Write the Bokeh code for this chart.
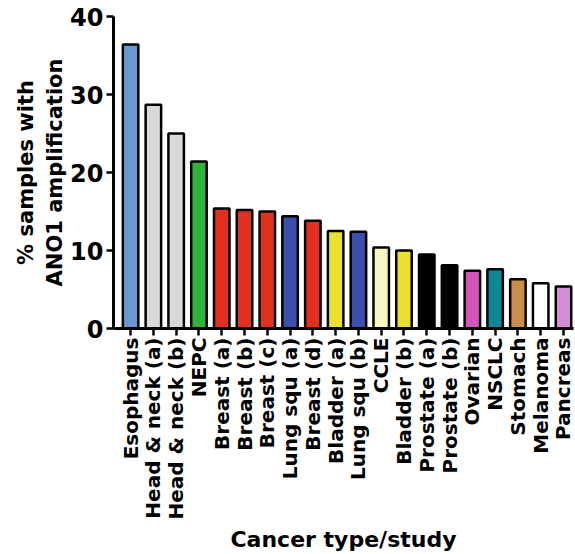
import math
from bokeh.plotting import figure
from bokeh.models import Range1d, FixedTicker, ColumnDataSource
from bokeh.embed import file_html
from bokeh.resources import INLINE

categories = ["Esophagus", "Head & neck (a)", "Head & neck (b)", "NEPC",
              "Breast (a)", "Breast (b)", "Breast (c)", "Lung squ (a)",
              "Breast (d)", "Bladder (a)", "Lung squ (b)", "CCLE",
              "Bladder (b)", "Prostate (a)", "Prostate (b)", "Ovarian",
              "NSCLC", "Stomach", "Melanoma", "Pancreas"]
values = [36.4, 28.7, 25.0, 21.4, 15.4, 15.2, 15.0, 14.4, 13.8, 12.5,
          12.4, 10.4, 10.0, 9.5, 8.1, 7.4, 7.6, 6.3, 5.8, 5.4]
y_ticks = [0, 10, 20, 30, 40]

colors = ["#6a98d2", "#d9d9d9", "#d9d9d9", "#2fb33a",
          "#e0301e", "#e0301e", "#e0301e", "#3b4fae",
          "#e0301e", "#ebe02e", "#3b4fae", "#f7f6c2",
          "#ebe02e", "#000000", "#000000", "#d257b8",
          "#0f8796", "#c98f4a", "#ffffff", "#d58cd6"]

xs = list(range(len(categories)))
src = ColumnDataSource(dict(x=xs, top=values, color=colors))

FONT = "DejaVu Sans"

p = figure(width=575, height=554, output_backend="svg", toolbar_location=None,
           x_range=Range1d(-0.75, len(categories) - 0.56),
           y_range=Range1d(0, 40),
           min_border_left=113, min_border_top=16, min_border_right=2,
           min_border_bottom=226)

p.vbar(x="x", top="top", bottom=0, width=0.68, source=src,
       fill_color="color", line_color="black", line_width=2.5)

p.outline_line_color = None
p.xgrid.grid_line_color = None
p.ygrid.grid_line_color = None
p.background_fill_color = "white"
p.border_fill_color = "white"

for ax in (p.xaxis[0], p.yaxis[0]):
    ax.axis_line_width = 3
    ax.axis_line_color = "black"
    ax.major_tick_line_width = 2.5
    ax.major_tick_line_color = "black"
    ax.major_tick_out = 7
    ax.major_tick_in = 0
    ax.minor_tick_line_color = None
    ax.major_label_text_font = FONT
    ax.major_label_text_font_style = "bold"
    ax.major_label_text_color = "black"
    ax.axis_label_text_font = FONT
    ax.axis_label_text_font_style = "bold"
    ax.axis_label_text_color = "black"

p.yaxis.ticker = FixedTicker(ticks=y_ticks)
p.yaxis.major_label_text_font_size = "24px"
p.yaxis.major_label_standoff = 3
p.yaxis.axis_label = "% samples with\nANO1 amplification"
p.yaxis.axis_label_text_font_size = "21px"
p.yaxis.axis_label_standoff = 0

p.xaxis.ticker = FixedTicker(ticks=xs)
p.xaxis.major_label_overrides = {i: c for i, c in enumerate(categories)}
p.xaxis.major_label_orientation = math.pi / 2
p.xaxis.major_label_text_font_size = "20px"
p.xaxis.major_label_standoff = 2
p.xaxis.axis_label = "Cancer type/study"
p.xaxis.axis_label_text_font_size = "22px"
p.xaxis.axis_label_standoff = 4

open("out.html", "w").write(file_html(p, INLINE))
